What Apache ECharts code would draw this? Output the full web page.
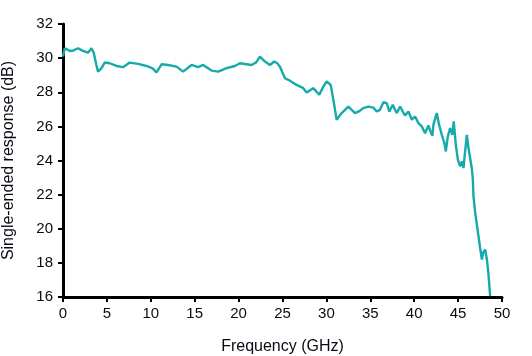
<!DOCTYPE html>
<html>
<head>
<meta charset="utf-8">
<script src="https://cdn.jsdelivr.net/npm/echarts@6/dist/echarts.min.js"></script>
<style>html,body{margin:0;padding:0;background:#fff}#c{width:532px;height:356px}</style>
</head>
<body>
<div id="c"></div>
<script>
const freqGHz = [0, 0.2, 0.5, 0.76, 1.2, 1.71, 2.0, 2.28, 2.85, 3.24, 3.5, 3.8, 3.99, 4.2, 4.38, 4.75, 5.33, 6.09, 6.84, 7.6, 8.55, 9.5, 10.2, 10.65, 11.22, 11.97, 12.93, 13.68, 14.64, 15.39, 15.96, 16.92, 17.67, 18.63, 19.58, 20.15, 21.48, 22.0, 22.43, 23.0, 23.57, 24.06, 24.4, 24.71, 25.28, 25.85, 26.61, 27.37, 27.75, 28.5, 29.19, 29.65, 30.03, 30.49, 30.79, 31.17, 31.74, 32.5, 33.26, 33.8, 34.2, 34.78, 35.35, 35.73, 36.1, 36.49, 36.87, 37.17, 37.56, 37.82, 38.0, 38.4, 38.7, 38.96, 39.34, 39.73, 40.1, 40.48, 40.86, 41.24, 41.62, 41.93, 42.08, 42.19, 42.57, 42.83, 43.14, 43.44, 43.6, 43.83, 44.09, 44.35, 44.5, 44.74, 44.97, 45.23, 45.43, 45.61, 45.8, 46.0, 46.18, 46.37, 46.57, 46.68, 46.75, 46.95, 47.32, 47.5, 47.71, 47.85, 48.08, 48.28, 48.45, 48.65];
const responseDB = [30.1, 30.58, 30.5, 30.42, 30.45, 30.58, 30.5, 30.42, 30.32, 30.58, 30.32, 29.6, 29.21, 29.3, 29.41, 29.74, 29.7, 29.54, 29.47, 29.74, 29.66, 29.54, 29.4, 29.17, 29.64, 29.6, 29.5, 29.21, 29.6, 29.47, 29.6, 29.27, 29.21, 29.41, 29.54, 29.7, 29.6, 29.75, 30.09, 29.8, 29.6, 29.8, 29.7, 29.5, 28.82, 28.68, 28.43, 28.24, 27.98, 28.24, 27.85, 28.33, 28.63, 28.43, 27.56, 26.39, 26.78, 27.16, 26.78, 26.91, 27.07, 27.16, 27.1, 26.87, 26.97, 27.42, 27.36, 26.87, 27.26, 26.97, 26.78, 27.16, 26.87, 26.64, 26.87, 26.39, 26.58, 26.19, 26.0, 25.6, 26.05, 25.6, 25.45, 26.1, 26.78, 26.1, 25.51, 25.02, 24.53, 25.41, 25.9, 25.51, 26.29, 24.92, 24.05, 23.66, 23.95, 23.56, 24.53, 25.5, 24.73, 24.15, 23.5, 22.88, 21.9, 20.93, 19.56, 18.9, 18.2, 18.6, 18.78, 18.2, 17.4, 16.05];

const fnt = "'Liberation Sans', Arial, sans-serif";
const chart = echarts.init(document.getElementById('c'), null, {renderer: 'canvas'});
chart.setOption({
  animation: false,
  grid: {left: 63, right: 30, top: 24, bottom: 59, outerBoundsMode: 'none', containLabel: false},
  xAxis: {
    type: 'value', min: 0, max: 50, interval: 5,
    name: 'Frequency (GHz)', nameLocation: 'middle', nameGap: 42,
    nameTextStyle: {fontFamily: fnt, fontSize: 16, color: '#0a0a14'},
    axisLine: {lineStyle: {color: '#000', width: 3}},
    axisTick: {show: true, inside: false, length: 5, lineStyle: {color: '#000', width: 2}},
    axisLabel: {fontFamily: fnt, fontSize: 15, color: '#0a0a14', margin: 9},
    splitLine: {show: false}
  },
  yAxis: {
    type: 'value', min: 16, max: 32, interval: 2,
    name: 'Single-ended response (dB)', nameLocation: 'middle', nameGap: 46, nameRotate: 90,
    nameTextStyle: {fontFamily: fnt, fontSize: 16, color: '#0a0a14'},
    axisLine: {show: true, lineStyle: {color: '#000', width: 3}},
    axisTick: {show: true, inside: false, length: 5, lineStyle: {color: '#000', width: 2}},
    axisLabel: {fontFamily: fnt, fontSize: 15, color: '#0a0a14', margin: 10},
    splitLine: {show: false}
  },
  series: [{
    type: 'line',
    data: freqGHz.map((f, i) => [f, responseDB[i]]),
    showSymbol: false,
    lineStyle: {color: '#17AAAA', width: 2.4},
    clip: true
  }]
});
</script>
</body>
</html>
